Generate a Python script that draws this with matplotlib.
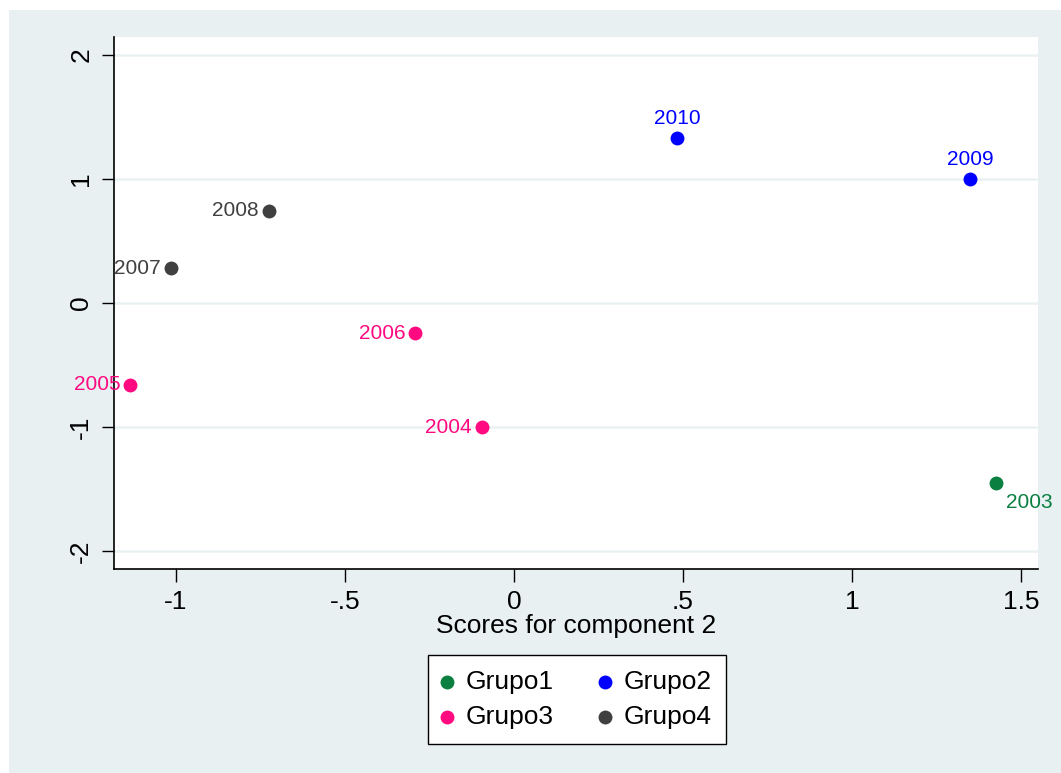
import matplotlib.pyplot as plt
from matplotlib.patches import Rectangle

plt.rcParams['font.family'] = ['Liberation Sans', 'DejaVu Sans']

# scores (component 2 on x, component 1 on y)
years = ['2003', '2004', '2005', '2006', '2007', '2008', '2009', '2010']
xs = [1.426, -0.095, -1.136, -0.293, -1.015, -0.725, 1.349, 0.482]
ys = [-1.452, -1.0, -0.661, -0.242, 0.282, 0.742, 1.0, 1.33]
grupo = ['Grupo1', 'Grupo3', 'Grupo3', 'Grupo3', 'Grupo4', 'Grupo4', 'Grupo2', 'Grupo2']

grupos = ['Grupo1', 'Grupo2', 'Grupo3', 'Grupo4']
colores = {'Grupo1': '#0A7F40', 'Grupo2': '#0000FF', 'Grupo3': '#FF0A80', 'Grupo4': '#404040'}

# where the year label sits around its point
label_pos = {'2003': 'br', '2009': 'top', '2010': 'top'}

fig = plt.figure(figsize=(10.61, 7.73), dpi=100)
fig.patch.set_facecolor('white')
fig.patches.append(Rectangle((9 / 1061, 0), 1, 1 - 10 / 773, transform=fig.transFigure,
                             facecolor='#E8F0F2', edgecolor='none', zorder=-10))

ax = fig.add_axes([114 / 1061, 1 - 569 / 773, (1038 - 114) / 1061, (569 - 37) / 773])
ax.set_facecolor('white')

handles = {}
for g in grupos:
    gx = [x for x, gg in zip(xs, grupo) if gg == g]
    gy = [y for y, gg in zip(ys, grupo) if gg == g]
    handles[g] = ax.scatter(gx, gy, s=100, color=colores[g], label=g, zorder=3, linewidths=0)

for yr, x, y, g in zip(years, xs, ys, grupo):
    pos = label_pos.get(yr, 'left')
    if pos == 'left':
        off, ha, va = (-7, 0), 'right', 'center'
    elif pos == 'top':
        off, ha, va = (0, 7), 'center', 'bottom'
    else:
        off, ha, va = (7, -7), 'left', 'top'
    ax.annotate(yr, (x, y), xytext=off, textcoords='offset points', ha=ha, va=va,
                fontsize=15, color=colores[g], zorder=4, annotation_clip=False)

ax.set_xlim(-1.183, 1.55)
ax.set_ylim(-2.145, 2.145)
ax.set_xticks([-1, -0.5, 0, 0.5, 1, 1.5])
ax.set_xticklabels(['-1', '-.5', '0', '.5', '1', '1.5'])
ax.set_yticks([-2, -1, 0, 1, 2])
ax.set_yticklabels(['-2', '-1', '0', '1', '2'], rotation=90, va='center')
ax.tick_params(labelsize=19, length=9, width=1, direction='out', pad=6)
ax.grid(axis='y', color='#EAF1F3', linewidth=1.8)
ax.set_axisbelow(True)
for s in ['top', 'right']:
    ax.spines[s].set_visible(False)
for s in ['left', 'bottom']:
    ax.spines[s].set_linewidth(1.2)
ax.set_xlabel('Scores for component 2', fontsize=19, labelpad=0)

# row-wise order: Grupo1 Grupo2 / Grupo3 Grupo4
orden = ['Grupo1', 'Grupo3', 'Grupo2', 'Grupo4']
leg = ax.legend([handles[g] for g in orden], orden,
                loc='upper center', bbox_to_anchor=(577 / 1061, 1 - 655 / 773),
                bbox_transform=fig.transFigure, ncol=2, fontsize=19, frameon=True,
                fancybox=False, edgecolor='black', framealpha=1, markerscale=1.0,
                handletextpad=0.5, columnspacing=1.75, borderpad=0.55, labelspacing=0.45,
                handlelength=0.4, borderaxespad=0)
leg.get_frame().set_linewidth(1)

fig.savefig('out.png', dpi=100)
